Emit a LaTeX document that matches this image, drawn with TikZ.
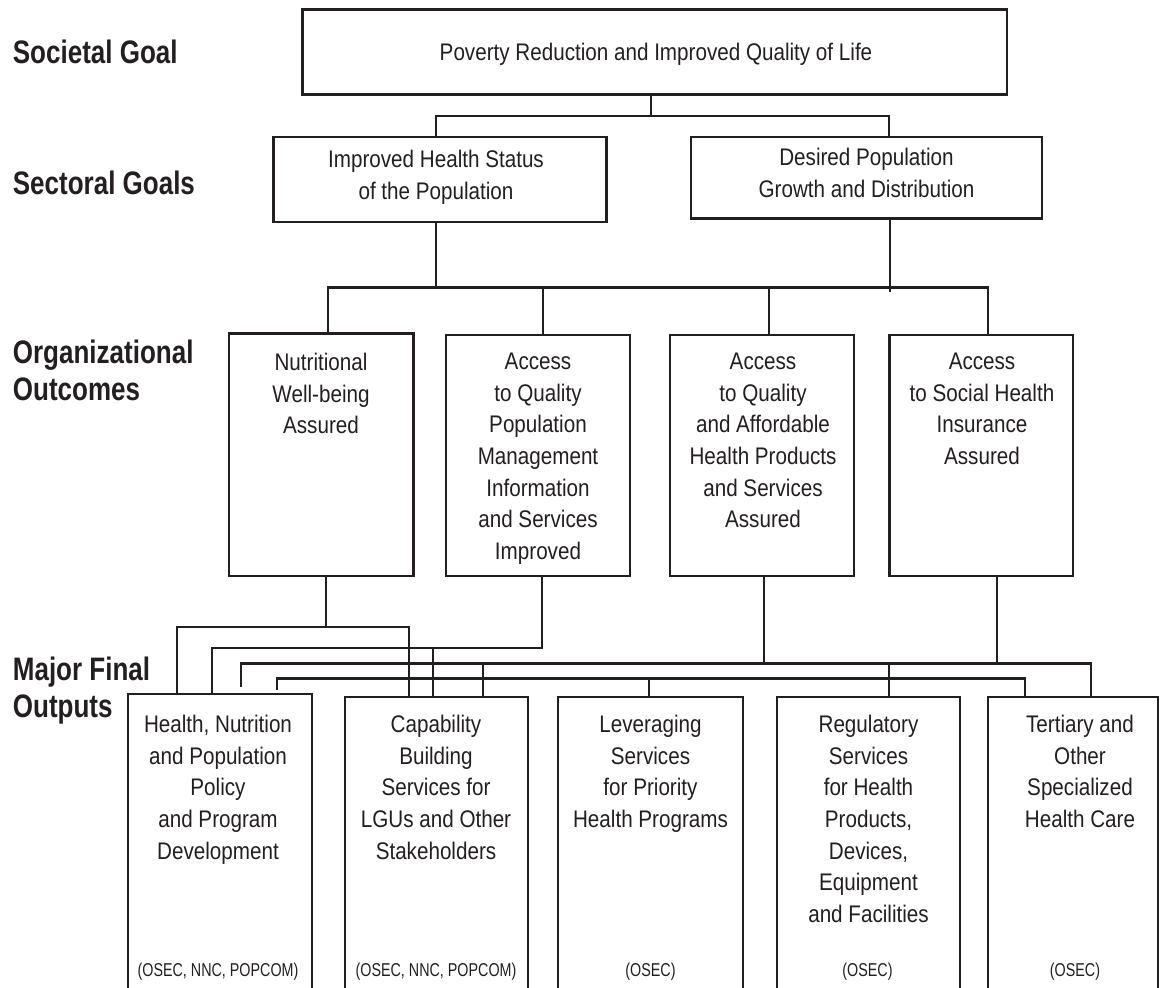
\documentclass[tikz,border=0pt]{standalone}
\usepackage{fontspec}
\setmainfont{Liberation Sans}[FakeStretch=0.86]
\newfontfamily\lblfont{Liberation Sans}[FakeStretch=0.80]
\newfontfamily\smallfont{Liberation Sans}[FakeStretch=0.77]
\definecolor{ink}{RGB}{35,31,32}
\newcommand\mkbox[5]{\node[boxsty, minimum width=#4*0.5pt, minimum height=#5*0.5pt] (#1) at (#2,#3) {};}
\tikzset{
  boxsty/.style={draw=ink, line width=1.1pt, inner sep=0pt, outer sep=0pt, anchor=north west, fill=white},
  txt/.style={inner sep=0pt, align=center, anchor=north, text=ink, font={\fontsize{12pt}{15.85pt}\selectfont}},
  small/.style={inner sep=0pt, anchor=base, text=ink, font={\smallfont\fontsize{9.3pt}{11pt}\selectfont}},
  lbl/.style={inner sep=0pt, align=left, anchor=north west, text=ink, font={\lblfont\bfseries\fontsize{16.25pt}{18.75pt}\selectfont}},
  wire/.style={draw=ink, line width=1.1pt},
}
\begin{document}
\begin{tikzpicture}[x=0.5pt,y=-0.5pt]
\fill[white] (0,0) rectangle (1161,987);
\useasboundingbox (0,0) rectangle (1161,987);
\clip (0,0) rectangle (1161,987);

% ---------- boxes ----------
\mkbox{top}{302.5}{9.5}{704.5}{85}
\mkbox{health}{273.5}{137}{333}{85}
\mkbox{desired}{691}{137}{351}{81.5}
\mkbox{nut}{229}{333.5}{184.5}{242.5}
\mkbox{pop}{446}{335}{184}{241}
\mkbox{qual}{670}{335}{184}{241}
\mkbox{soc}{889.5}{335}{183.5}{241}
\mkbox{o1}{128}{694}{184}{320}
\mkbox{o2}{345}{697}{183}{320}
\mkbox{o3}{558}{697}{185}{320}
\mkbox{o4}{777}{697}{183}{320}
\mkbox{o5}{988}{697}{170}{320}

% ---------- level labels ----------
\node[lbl] (lsoc) at (12.5,39.5) {Societal Goal};
\node[lbl] (lsec) at (12.5,171) {Sectoral Goals};
\node[lbl] (lorg) at (12.5,339.5) {Organizational\\Outcomes};
\node[lbl] (lmaj) at (12.5,656.5) {Major Final\\Outputs};

% ---------- box texts ----------
\node[txt] (ttop) at (656,42.5) {Poverty Reduction and Improved Quality of Life};
\node[txt] (thealth) at (436,149.5) {Improved Health Status\\of the Population};
\node[txt] (tdes) at (866.5,148) {Desired Population\\Growth and Distribution};
\node[txt] (tnut) at (321,352.5) {Nutritional\\Well-being\\Assured};
\node[txt] (tpop) at (538,352.5) {Access\\to Quality\\Population\\Management\\Information\\and Services\\Improved};
\node[txt] (tqual) at (763,352.5) {Access\\to Quality\\and Affordable\\Health Products\\and Services\\Assured};
\node[txt] (tsoc) at (982,352.5) {Access\\to Social Health\\Insurance\\Assured};
\node[txt] (t1) at (218,714.5) {Health, Nutrition\\and Population\\Policy\\and Program\\Development};
\node[txt] (t2) at (436,714.5) {Capability\\Building\\Services for\\LGUs and Other\\Stakeholders};
\node[txt] (t3) at (650.5,714.5) {Leveraging\\Services\\for Priority\\Health Programs};
\node[txt] (t4) at (868.5,714.5) {Regulatory\\Services\\for Health\\Products,\\Devices,\\Equipment\\and Facilities};
\node[txt] (t5) at (1080,714.5) {Tertiary and\\Other\\Specialized\\Health Care};
\node[small] (s1) at (218,976) {(OSEC, NNC, POPCOM)};
\node[small] (s2) at (436,976) {(OSEC, NNC, POPCOM)};
\node[small] (s3) at (650.5,976) {(OSEC)};
\node[small] (s4) at (867.5,976) {(OSEC)};
\node[small] (s5) at (1075,976) {(OSEC)};

% ---------- societal -> sectoral ----------
\coordinate (j0) at (651,116);
\coordinate (j1) at (436,116);
\coordinate (j2) at (889,116);
\draw[wire] (j0 |- top.south) -- (j0);
\draw[wire] (health.north -| j1) -- (j1) -- (j2) -- (desired.north -| j2);

% ---------- sectoral -> organizational ----------
\coordinate (k1) at (436,287.5);
\coordinate (k2) at (890,291.5);
\coordinate (b1) at (328,287.5);
\coordinate (b2) at (542.7,287.5);
\coordinate (b3) at (769.3,287.5);
\coordinate (b4) at (988.3,287.5);
\draw[wire] (health.south -| k1) -- (k1);
\draw[wire] (desired.south -| k2) -- (k2);
\draw[wire] (nut.north -| b1) -- (b1) -- (b4) -- (soc.north -| b4);
\draw[wire] (b2) -- (pop.north -| b2);
\draw[wire] (b3) -- (qual.north -| b3);

% ---------- organizational -> outputs ----------
% bus A (Nutritional)
\coordinate (a0) at (325.7,627);
\coordinate (a1) at (176.7,627);
\coordinate (a2) at (409,627);
\draw[wire] (nut.south -| a0) -- (a0);
\draw[wire] (o1.north -| a1) -- (a1) -- (a2) -- (o2.north -| a2);
% bus B (Population management)
\coordinate (bb0) at (542,648);
\coordinate (bb1) at (212,648);
\coordinate (bb2) at (433,648);
\draw[wire] (pop.south -| bb0) -- (bb0) -- (bb1) -- (o1.north -| bb1);
\draw[wire] (bb2) -- (o2.north -| bb2);
% bus C (Quality products, Social insurance)
\coordinate (c1s) at (241,687);
\coordinate (c1) at (241,663.5);
\coordinate (c2) at (483,663.5);
\coordinate (c3) at (764,663.5);
\coordinate (c4) at (889,663.5);
\coordinate (c5) at (997,663.5);
\coordinate (c6) at (1091,663.5);
\draw[wire] (qual.south -| c3) -- (c3);
\draw[wire] (soc.south -| c5) -- (c5);
\draw[wire] (c1s) -- (c1) -- (c6) -- (o5.north -| c6);
\draw[wire] (c2) -- (o2.north -| c2);
\draw[wire] (c4) -- (o4.north -| c4);
% bus D
\coordinate (d1s) at (277,690);
\coordinate (d1) at (277,678.5);
\coordinate (d2) at (649,678.5);
\coordinate (d3) at (1025,678.5);
\draw[wire] (d1s) -- (d1) -- (d3) -- (o5.north -| d3);
\draw[wire] (d2) -- (o3.north -| d2);
\end{tikzpicture}
\end{document}
